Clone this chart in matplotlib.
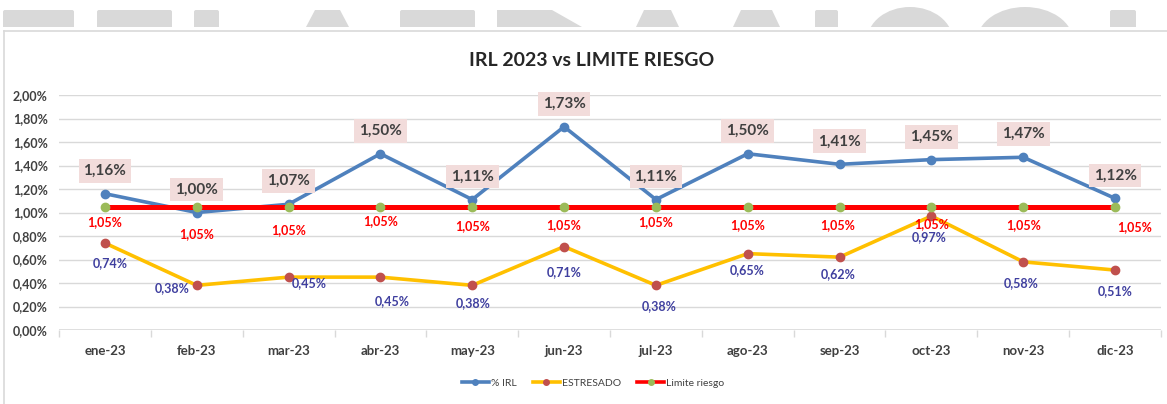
import matplotlib
matplotlib.use("Agg")
import matplotlib.pyplot as plt
from matplotlib.patches import Rectangle, Polygon, Ellipse, FancyBboxPatch
from matplotlib.lines import Line2D
import numpy as np

plt.rcParams['font.family'] = ['Lato', 'DejaVu Sans']

# ---------------- data ----------------
categories = ['ene-23', 'feb-23', 'mar-23', 'abr-23', 'may-23', 'jun-23',
              'jul-23', 'ago-23', 'sep-23', 'oct-23', 'nov-23', 'dic-23']
irl = [1.16, 1.00, 1.07, 1.50, 1.11, 1.73, 1.11, 1.50, 1.41, 1.45, 1.47, 1.12]
estresado = [0.74, 0.38, 0.45, 0.45, 0.38, 0.71, 0.38, 0.65, 0.62, 0.97, 0.58, 0.51]
limite = [1.05] * 12
y_ticks = [0.0, 0.2, 0.4, 0.6, 0.8, 1.0, 1.2, 1.4, 1.6, 1.8, 2.0]
title = 'IRL 2023 vs LIMITE RIESGO'
series_names = ['% IRL', 'ESTRESADO', 'Limite riesgo']

# label nudges (pixels: dx, dy downward)
lim_nudge = [(0, 15), (0, 27), (0, 23), (0, 14), (0, 19), (0, 18),
             (0, 15), (0, 18), (-2, 18), (0, 17), (0, 18), (20, 20)]
est_nudge = [(5, 20), (-25, 3), (21, 6), (12, 24), (1, 18), (0, 26),
             (3, 21), (-1, 16), (-1, 17), (-2, 21), (-2, 21), (0, 21)]

C_BLUE = '#4F81BD'
C_YEL = '#FFC000'
C_RED = '#FF0000'
C_MRED = '#C0504D'
C_GRN = '#9BBB59'
C_NAVY = '#3F3F9F'

W, H = 1167, 404
fig = plt.figure(figsize=(W / 100, H / 100), dpi=100)
fig.patch.set_facecolor('white')

# ---------------- background decoration (pixel coordinates) ----------------
bg = fig.add_axes([0, 0, 1, 1])
bg.set_xlim(0, W)
bg.set_ylim(H, 0)
bg.axis('off')
gray = '#D9D9D9'
top, bot = 10, 27
for x0, x1 in [(3, 74), (97, 172), (194, 219), (400, 475), (815, 838), (1110, 1136)]:
    bg.add_patch(FancyBboxPatch((x0 + 2, top + 2), x1 - x0 - 4, bot - top - 2,
                                boxstyle='round,pad=2', fc=gray, ec='none'))
for x0, x1, inset in [(306, 349, 9), (636, 679, 8), (733, 780, 8)]:
    bg.add_patch(Polygon([(x0, bot), (x0 + inset, top), (x1 - inset, top), (x1, bot)],
                         closed=True, fc=gray, ec='none'))
bg.add_patch(Polygon([(497, bot), (497, top), (552, top), (582, bot)], closed=True,
                     fc=gray, ec='none'))
for x0, x1 in [(867, 953), (977, 1073)]:
    e = Ellipse(((x0 + x1) / 2, bot + 14), x1 - x0, 2 * (bot + 14 - 7), fc=gray, ec='none')
    bg.add_patch(e)
bg.add_patch(Rectangle((0, bot), W, H, fc='white', ec='none'))
# chart border
bg.plot([4, W + 5], [31, 31], color='#D9D9D9', lw=1.2)
bg.plot([4, 4], [31, H + 5], color='#D9D9D9', lw=1.2)

# title
fig.text(592 / W, 1 - 60 / H, title, ha='center', va='center',
         fontsize=14, fontweight='bold', color='#262626')

# ---------------- main axes ----------------
left, right = 59, 1161
ytop, ybot = 95, 330
ax = fig.add_axes([left / W, 1 - ybot / H, (right - left) / W, (ybot - ytop) / H])
ax.set_facecolor('none')
x = np.arange(len(categories))
ax.set_xlim(-0.5, len(categories) - 0.5)
ax.set_ylim(0, 2.0)

for yv in y_ticks[1:]:
    ax.axhline(yv, color='#D9D9D9', lw=1, zorder=0)
ax.axhline(0, color='#D9D9D9', lw=1.2, zorder=0)
for s in ax.spines.values():
    s.set_visible(False)

ax.set_yticks(y_ticks)
ax.set_yticklabels([f'{v:.2f}%'.replace('.', ',') for v in y_ticks],
                   fontsize=9, fontweight='bold', color='#404040')
ax.tick_params(axis='y', length=0, pad=8)
ax.set_xticks(x)
ax.set_xticklabels(categories, fontsize=9.5, fontweight='bold', color='#404040')
ax.tick_params(axis='x', length=0, pad=11)
ax.set_xticks(np.arange(-0.5, len(categories)), minor=True)
ax.tick_params(axis='x', which='minor', length=5, color='#D9D9D9', width=1)

ax.plot(x, irl, color=C_BLUE, lw=2.6, marker='o', ms=6, mfc=C_BLUE, mec=C_BLUE,
        zorder=3, solid_joinstyle='round')
ax.plot(x, estresado, color=C_YEL, lw=2.6, marker='o', ms=6, mfc=C_MRED, mec=C_MRED,
        zorder=3, solid_joinstyle='round')
ax.plot(x, limite, color=C_RED, lw=3.6, marker='o', ms=6, mfc=C_GRN, mec=C_GRN,
        zorder=4)

px = 0.72  # points per pixel
fmt = lambda v: f'{v:.2f}%'.replace('.', ',')
for i, v in enumerate(irl):
    ax.annotate(fmt(v), (x[i], v), xytext=(0, 23 * px), textcoords='offset points',
                ha='center', va='center', fontsize=11, fontweight='bold', color='#404040',
                bbox=dict(boxstyle='square,pad=0.32', fc='#F2DCDB', ec='none'), zorder=6)
for i, v in enumerate(limite):
    dx, dy = lim_nudge[i]
    ax.annotate(fmt(v), (x[i], v), xytext=(dx * px, -dy * px), textcoords='offset points',
                ha='center', va='center', fontsize=9, fontweight='bold', color=C_RED,
                zorder=6)
for i, v in enumerate(estresado):
    dx, dy = est_nudge[i]
    ax.annotate(fmt(v), (x[i], v), xytext=(dx * px, -dy * px), textcoords='offset points',
                ha='center', va='center', fontsize=9, fontweight='bold', color=C_NAVY,
                zorder=6)

# legend
handles = [
    Line2D([], [], color=C_BLUE, lw=2.6, marker='o', ms=4, mfc=C_BLUE, mec=C_BLUE),
    Line2D([], [], color=C_YEL, lw=2.6, marker='o', ms=4, mfc=C_MRED, mec=C_MRED),
    Line2D([], [], color=C_RED, lw=2.6, marker='o', ms=4, mfc=C_GRN, mec=C_GRN),
]
fig.legend(handles, series_names, loc='center', bbox_to_anchor=(593 / W, 1 - 383 / H),
           ncol=3, frameon=False, fontsize=7.5, handlelength=2.6, handletextpad=0.15,
           columnspacing=1.6, labelcolor='#404040')

fig.savefig('out.png', dpi=100, facecolor='white')
